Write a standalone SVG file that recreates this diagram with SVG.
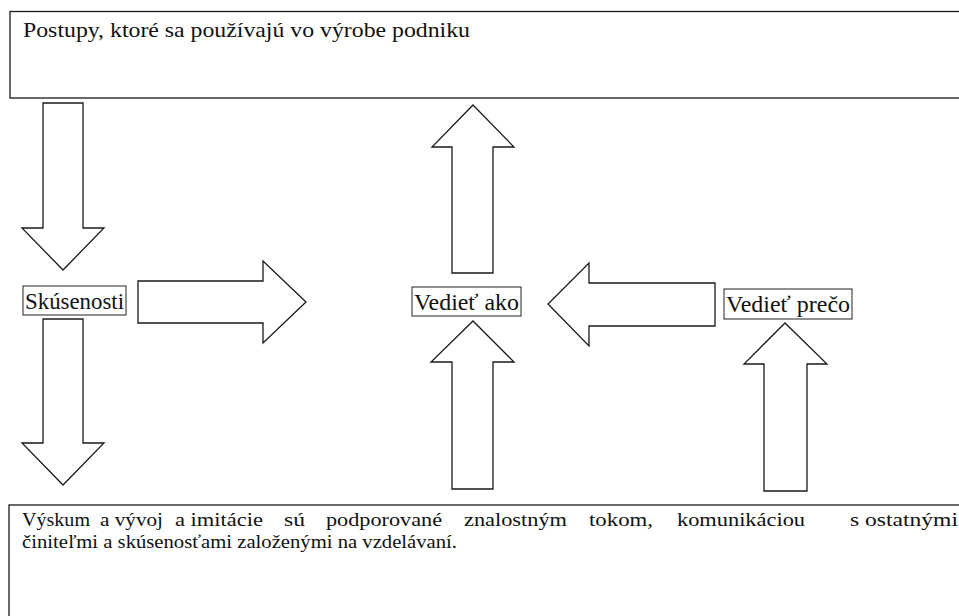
<svg xmlns="http://www.w3.org/2000/svg" width="959" height="616" viewBox="0 0 959 616">
<style>
.box{fill:#fff;stroke:#1a1a1a;stroke-width:1.3}
.lbl{fill:#fff;stroke:#222;stroke-width:1}
.arr{fill:#fff;stroke:#1a1a1a;stroke-width:1.3;stroke-linejoin:miter}
.s{font-family:Liberation Serif, DejaVu Serif, serif;fill:#111}
</style>
<rect width="959" height="616" fill="#fff"/>
<g id="top-box">
<rect class="box" x="10" y="11.5" width="960" height="86.5"/>
<text class="s" x="23" y="37" font-size="22" textLength="447" lengthAdjust="spacingAndGlyphs">Postupy, ktoré sa používajú vo výrobe podniku</text>
</g>
<g id="bottom-box" class="s" font-size="19">
<rect class="box" x="9" y="505" width="960" height="130"/>
<text x="22" y="526" textLength="68" lengthAdjust="spacingAndGlyphs">Výskum</text>
<text x="100" y="526" textLength="63" lengthAdjust="spacingAndGlyphs">a vývoj</text>
<text x="175" y="526" textLength="88" lengthAdjust="spacingAndGlyphs">a imitácie</text>
<text x="284" y="526" textLength="21" lengthAdjust="spacingAndGlyphs">sú</text>
<text x="326" y="526" textLength="116" lengthAdjust="spacingAndGlyphs">podporované</text>
<text x="464" y="526" textLength="103" lengthAdjust="spacingAndGlyphs">znalostným</text>
<text x="589" y="526" textLength="64" lengthAdjust="spacingAndGlyphs">tokom,</text>
<text x="677" y="526" textLength="128" lengthAdjust="spacingAndGlyphs">komunikáciou</text>
<text x="850" y="526" textLength="108" lengthAdjust="spacingAndGlyphs">s ostatnými</text>
<text x="22" y="548" textLength="435" lengthAdjust="spacingAndGlyphs">činiteľmi a skúsenosťami založenými na vzdelávaní.</text>
</g>
<g id="connectors">
<polygon class="arr" points="43,103 83,103 83,228 104,228 63,270 22,228 43,228"/>
<polygon class="arr" points="138,281 263,281 263,261 306,302 263,343 263,323 138,323"/>
<polygon class="arr" points="43,319 83,319 83,443 104,443 63,485 22,443 43,443"/>
<polygon class="arr" points="452,273 493,273 493,147 514,147 473,105 432,147 452,147"/>
<polygon class="arr" points="452,489 493,489 493,362 514,362 473,321 431,362 452,362"/>
<polygon class="arr" points="715,283 589,283 589,263 548,304 589,346 589,326 715,326"/>
<polygon class="arr" points="764,491 807,491 807,364 827,364 785,323 744,364 764,364"/>
</g>
<g id="skusenosti">
<rect class="lbl" x="23" y="286" width="103" height="29"/>
<text class="s" x="25" y="309" font-size="24" textLength="99" lengthAdjust="spacingAndGlyphs">Skúsenosti</text>
</g>
<g id="vediet-ako">
<rect class="lbl" x="412" y="287" width="109" height="29"/>
<text class="s" x="414" y="310" font-size="24" textLength="105" lengthAdjust="spacingAndGlyphs">Vedieť ako</text>
</g>
<g id="vediet-preco">
<rect class="lbl" x="724" y="289" width="128" height="30"/>
<text class="s" x="726" y="312" font-size="24" textLength="124" lengthAdjust="spacingAndGlyphs">Vedieť prečo</text>
</g>
</svg>
